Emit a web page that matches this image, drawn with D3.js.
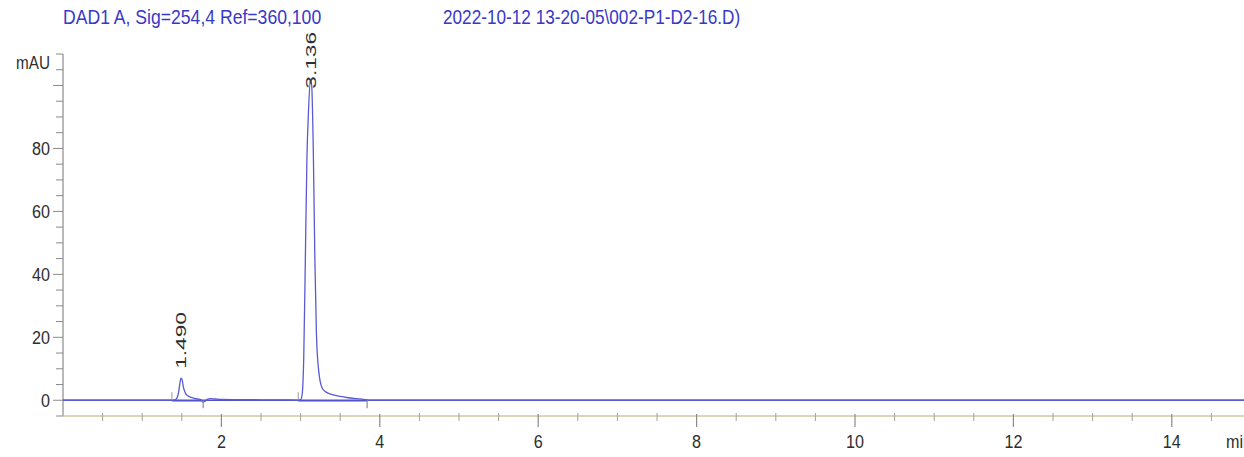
<!DOCTYPE html>
<html>
<head>
<meta charset="utf-8">
<script src="https://cdn.jsdelivr.net/npm/d3@7"></script>
<style>
  html, body { margin: 0; padding: 0; background: #fff; }
  svg { display: block; font-family: "Liberation Sans", Arial, sans-serif; }
</style>
</head>
<body>
<svg width="1244" height="457"></svg>
<script>
// signal (retention time in min, absorbance in mAU)
const timeMin = [0, 0.5, 1.0, 1.38, 1.42, 1.44, 1.46, 1.475, 1.49, 1.505, 1.52, 1.54, 1.56, 1.6, 1.65, 1.7, 1.74,
  1.77, 1.79, 1.82, 1.86, 1.92, 2.0, 2.2, 2.5, 2.8, 2.96, 3.0, 3.02, 3.04, 3.06, 3.08, 3.1, 3.125, 3.14, 3.16,
  3.18, 3.2, 3.23, 3.27, 3.32, 3.4, 3.5, 3.6, 3.7, 3.8, 3.86, 4.5, 6, 8, 10, 12, 14, 15.2];
const signalMAU = [0, 0, 0, 0, 0.2, 0.8, 2.6, 5.2, 7.0, 6.4, 4.2, 2.6, 1.7, 1.1, 0.7, 0.4, 0.2,
  -0.6, -0.4, 0.3, 0.5, 0.4, 0.25, 0.2, 0.15, 0.1, 0.05, 0.2, 2, 14, 45, 77, 92, 102, 100, 80,
  45, 21, 9, 4, 2.6, 1.8, 1.2, 0.8, 0.5, 0.3, 0.05, 0, 0, 0, 0, 0, 0, 0];

const peakTimes = [1.490, 3.136];
const peakLabels = ['1.490', '3.136'];
const integStart = [1.375, 2.97];
const integEnd = [1.77, 3.84];

const xMajorTicks = [2, 4, 6, 8, 10, 12, 14];
const yLabelTicks = [0, 20, 40, 60, 80];
const yMajorTicks = [0, 20, 40, 60, 80, 100];

const titleLeft = 'DAD1 A, Sig=254,4 Ref=360,100';
const titleRight = '2022-10-12 13-20-05\\002-P1-D2-16.D)';

const svg = d3.select('svg');

const x = d3.scaleLinear().domain([0, 15]).range([63, 1251]);
const y = d3.scaleLinear().domain([-5, 110]).range([416, 54]);

const axisGray = '#8a8a8a';
const textColor = '#2e2e2e';

// titles (narrow font look)
svg.append('text')
  .attr('transform', 'translate(63,24) scale(0.88,1)')
  .attr('font-size', 20)
  .attr('fill', '#3838c8')
  .text(titleLeft);
svg.append('text')
  .attr('transform', 'translate(443,24) scale(0.86,1)')
  .attr('font-size', 20)
  .attr('fill', '#3838c8')
  .text(titleRight);

// y axis
const yAxis = svg.append('g');
yAxis.append('line')
  .attr('x1', x(0)).attr('x2', x(0))
  .attr('y1', y(110)).attr('y2', y(-5))
  .attr('stroke', axisGray).attr('stroke-width', 1.2);

yAxis.selectAll('.ymin')
  .data(d3.range(-5, 111, 5))
  .enter().append('line')
    .attr('x1', d => x(0) - (yMajorTicks.includes(d) ? 10 : 7))
    .attr('x2', x(0))
    .attr('y1', d => y(d)).attr('y2', d => y(d))
    .attr('stroke', axisGray).attr('stroke-width', 1);

yAxis.selectAll('.ylab')
  .data(yLabelTicks)
  .enter().append('text')
    .attr('transform', d => `translate(50,${y(d) + 7}) scale(0.85,1)`)
    .attr('text-anchor', 'end')
    .attr('font-size', 19)
    .attr('fill', textColor)
    .text(d => d);

svg.append('text')
  .attr('transform', 'translate(50,69) scale(0.85,1)')
  .attr('text-anchor', 'end')
  .attr('font-size', 18)
  .attr('fill', textColor)
  .text('mAU');

// x axis
const xAxis = svg.append('g');
xAxis.append('line')
  .attr('x1', x(0)).attr('x2', 1244)
  .attr('y1', y(-5)).attr('y2', y(-5))
  .attr('stroke', '#cdc89c').attr('stroke-width', 1.5);

xAxis.selectAll('.xmin')
  .data(d3.range(1, 31).map(d => d / 2).filter(d => !xMajorTicks.includes(d)))
  .enter().append('line')
    .attr('x1', d => x(d)).attr('x2', d => x(d))
    .attr('y1', y(-5) - 3).attr('y2', y(-5) + 5)
    .attr('stroke', '#a0a0a0').attr('stroke-width', 1);

xAxis.selectAll('.xmaj')
  .data(xMajorTicks)
  .enter().append('line')
    .attr('x1', d => x(d)).attr('x2', d => x(d))
    .attr('y1', y(-5) - 2).attr('y2', y(-5) + 11)
    .attr('stroke', axisGray).attr('stroke-width', 1.2);

xAxis.selectAll('.xlab')
  .data(xMajorTicks)
  .enter().append('text')
    .attr('transform', d => `translate(${x(d)},448) scale(0.85,1)`)
    .attr('text-anchor', 'middle')
    .attr('font-size', 19)
    .attr('fill', textColor)
    .text(d => d);

svg.append('text')
  .attr('transform', 'translate(1226,448) scale(0.85,1)')
  .attr('font-size', 19)
  .attr('fill', textColor)
  .text('min');

// integration baselines
svg.selectAll('.base')
  .data(integStart)
  .enter().append('line')
    .attr('x1', d => x(d))
    .attr('x2', (d, i) => x(integEnd[i]))
    .attr('y1', y(-0.3)).attr('y2', y(-0.3))
    .attr('stroke', '#f27cf0').attr('stroke-width', 1.5);

// zero line and signal
svg.append('line')
  .attr('x1', x(0)).attr('x2', 1244)
  .attr('y1', y(0)).attr('y2', y(0))
  .attr('stroke', '#5252c8').attr('stroke-width', 1.6);

const points = timeMin.map((t, i) => [t, signalMAU[i]]);
const line = d3.line()
  .x(d => x(d[0]))
  .y(d => y(d[1]))
  .curve(d3.curveMonotoneX);

svg.append('path')
  .datum(points)
  .attr('fill', 'none')
  .attr('stroke', '#5a5ad4')
  .attr('stroke-width', 1.3)
  .attr('d', line);

// integration markers
svg.selectAll('.mstart')
  .data(integStart)
  .enter().append('line')
    .attr('x1', d => x(d)).attr('x2', d => x(d))
    .attr('y1', y(0) - 8).attr('y2', y(0))
    .attr('stroke', '#9a9a9a').attr('stroke-width', 1);
svg.selectAll('.mend')
  .data(integEnd)
  .enter().append('line')
    .attr('x1', d => x(d)).attr('x2', d => x(d))
    .attr('y1', y(0)).attr('y2', y(0) + 8)
    .attr('stroke', '#8a8a9a').attr('stroke-width', 1.2);

// peak labels
const peakTop = peakTimes.map(t => {
  const near = points.filter(p => Math.abs(p[0] - t) < 0.05);
  return d3.max(near, p => p[1]);
});

svg.selectAll('.plab')
  .data(peakLabels)
  .enter().append('text')
    .attr('transform', (d, i) =>
      `translate(${x(peakTimes[i]) + 5},${y(Math.min(peakTop[i] + 3, 99))}) rotate(-90) scale(1.62,1)`)
    .attr('font-size', 14)
    .attr('fill', textColor)
    .text(d => d);
</script>
</body>
</html>
